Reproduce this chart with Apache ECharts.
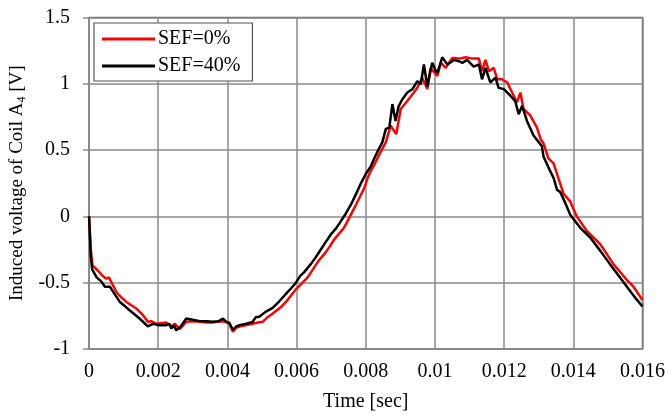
<!DOCTYPE html>
<html><head><meta charset="utf-8">
<script src="https://cdn.jsdelivr.net/npm/echarts@6/dist/echarts.min.js"></script>
<style>html,body{margin:0;padding:0;background:#fff}#c{width:670px;height:417px}</style>
</head><body><div id="c"></div>
<script>
const tBlack = [0,0.00005,0.00009,0.00022,0.00035,0.00046,0.0006,0.00075,0.00089,0.00105,0.00118,0.00132,0.00146,0.00158,0.0017,0.00185,0.002,0.00223,0.00232,0.00238,0.00245,0.00252,0.00265,0.00281,0.003,0.0032,0.0034,0.00358,0.00375,0.00387,0.00398,0.00405,0.00416,0.00425,0.00435,0.00455,0.00473,0.00482,0.00492,0.0051,0.00531,0.0055,0.00569,0.00585,0.00598,0.0061,0.00622,0.00641,0.00655,0.0067,0.00685,0.00699,0.00714,0.00728,0.00742,0.00757,0.00772,0.00786,0.008,0.00814,0.00825,0.00838,0.00848,0.00858,0.00868,0.00877,0.00886,0.00895,0.00905,0.0092,0.00935,0.00949,0.00959,0.00968,0.00978,0.00992,0.01002,0.01007,0.01021,0.01036,0.01055,0.0107,0.01079,0.01093,0.01112,0.01127,0.01136,0.01146,0.0116,0.01175,0.01184,0.01199,0.01218,0.01232,0.01242,0.01252,0.01266,0.01285,0.013,0.01309,0.01314,0.01328,0.01343,0.01353,0.01362,0.01377,0.01391,0.0142,0.01449,0.01478,0.01506,0.01535,0.01555,0.01569,0.01581,0.016];
const vBlack = [0,-0.30,-0.40,-0.46,-0.49,-0.53,-0.53,-0.59,-0.645,-0.68,-0.71,-0.74,-0.77,-0.80,-0.83,-0.81,-0.82,-0.82,-0.81,-0.845,-0.82,-0.86,-0.83,-0.77,-0.78,-0.79,-0.79,-0.795,-0.79,-0.77,-0.80,-0.80,-0.857,-0.83,-0.82,-0.81,-0.795,-0.76,-0.757,-0.72,-0.69,-0.64,-0.585,-0.54,-0.50,-0.45,-0.42,-0.36,-0.31,-0.25,-0.19,-0.136,-0.09,-0.036,0.02,0.088,0.17,0.25,0.32,0.375,0.44,0.51,0.56,0.66,0.67,0.847,0.72,0.83,0.88,0.934,0.96,1.02,0.996,1.146,0.98,1.158,1.10,1.083,1.2,1.146,1.18,1.17,1.158,1.18,1.13,1.146,1.034,1.12,1.01,1.046,0.97,0.96,0.91,0.87,0.77,0.834,0.72,0.61,0.56,0.53,0.45,0.37,0.29,0.20,0.185,0.10,0.013,-0.086,-0.16,-0.26,-0.36,-0.46,-0.53,-0.58,-0.62,-0.68];
const tRed = [0,0.00005,0.0001,0.00026,0.0004,0.0005,0.00058,0.00065,0.00079,0.00093,0.00108,0.00122,0.00137,0.00156,0.0017,0.0018,0.00195,0.00223,0.00238,0.00248,0.00262,0.00281,0.003,0.0032,0.0034,0.00358,0.00378,0.00396,0.00405,0.00416,0.00425,0.00435,0.00455,0.00473,0.00488,0.00502,0.00516,0.00531,0.00555,0.00569,0.00584,0.00598,0.00613,0.00632,0.00651,0.00665,0.0068,0.00695,0.00709,0.00723,0.00737,0.00757,0.00772,0.00786,0.00795,0.00805,0.00814,0.00824,0.00843,0.00858,0.00872,0.00888,0.00901,0.0092,0.00939,0.00949,0.00963,0.00978,0.00987,0.01007,0.01017,0.01031,0.0105,0.0107,0.01089,0.01108,0.01127,0.01136,0.01146,0.01156,0.0117,0.0118,0.01194,0.01209,0.01223,0.01237,0.01247,0.01256,0.01276,0.01295,0.01305,0.01314,0.01328,0.01343,0.01357,0.01372,0.01391,0.0141,0.01439,0.01478,0.01516,0.01555,0.01574,0.016];
const vRed = [0,-0.25,-0.37,-0.41,-0.45,-0.47,-0.46,-0.50,-0.57,-0.61,-0.645,-0.67,-0.695,-0.745,-0.795,-0.79,-0.81,-0.80,-0.83,-0.81,-0.85,-0.795,-0.79,-0.795,-0.80,-0.80,-0.79,-0.795,-0.81,-0.87,-0.84,-0.83,-0.82,-0.81,-0.80,-0.795,-0.76,-0.733,-0.683,-0.645,-0.596,-0.55,-0.51,-0.46,-0.384,-0.33,-0.285,-0.23,-0.173,-0.13,-0.086,0.013,0.09,0.163,0.21,0.287,0.34,0.387,0.487,0.56,0.685,0.62,0.81,0.87,0.934,0.97,1.046,0.96,1.12,1.06,1.16,1.12,1.195,1.19,1.2,1.19,1.19,1.095,1.18,1.095,1.12,1.034,1.034,1.01,0.934,0.86,0.934,0.81,0.76,0.67,0.586,0.55,0.437,0.40,0.287,0.17,0.113,0.0,-0.11,-0.21,-0.36,-0.48,-0.53,-0.63];
const seriesNames = ['SEF=0%','SEF=40%'];
const xTicks = [0,0.002,0.004,0.006,0.008,0.01,0.012,0.014,0.016];
const yTicks = [-1,-0.5,0,0.5,1,1.5];

const zip = (a,b)=>a.map((t,i)=>[t,b[i]]);
const font = 'Liberation Serif, Times New Roman, serif';
const chart = echarts.init(document.getElementById('c'));
chart.setOption({
  animation:false,
  textStyle:{fontFamily:font},
  grid:{left:87.5,right:27.5,top:17.5,bottom:65,show:true,borderColor:'#666',borderWidth:1.5},
  legend:{
    orient:'vertical',left:94,top:23,
    data:seriesNames.map(n=>({name:n,icon:'rect'})),
    itemWidth:53,itemHeight:3,itemGap:7,
    padding:[6,12,5,8],
    borderColor:'#555',borderWidth:1.2,backgroundColor:'#fff',
    textStyle:{fontFamily:font,fontSize:20,color:'#000',padding:[0,0,0,-2]}
  },
  xAxis:{
    type:'value',min:0,max:0.016,interval:0.002,
    name:'Time [sec]',nameLocation:'middle',nameGap:43,
    nameTextStyle:{fontFamily:font,fontSize:20,color:'#000'},
    axisLine:{show:false},axisTick:{show:false},
    axisLabel:{fontFamily:font,fontSize:20,color:'#000',margin:13,
      formatter:v=>{const r=xTicks.find(x=>Math.abs(x-v)<1e-9);return r===undefined?'':String(r);}},
    splitLine:{show:true,lineStyle:{color:'#8a8a8a',width:1.5}}
  },
  yAxis:{
    type:'value',min:-1,max:1.5,interval:0.5,
    name:'Induced voltage of Coil A{sub|4} [V]',nameLocation:'middle',nameGap:57,
    nameTextStyle:{fontFamily:font,fontSize:19,color:'#000',
      rich:{sub:{fontFamily:font,fontSize:12,verticalAlign:'bottom',padding:[8,0,0,0]}}},
    axisLine:{show:false},
    axisTick:{show:true,length:6,inside:false,lineStyle:{color:'#8a8a8a',width:1.5}},
    axisLabel:{fontFamily:font,fontSize:20,color:'#000',margin:19,
      formatter:v=>{const r=yTicks.find(x=>Math.abs(x-v)<1e-9);return r===undefined?'':String(r);}},
    splitLine:{show:true,lineStyle:{color:'#8a8a8a',width:1.5}}
  },
  series:[
    {name:seriesNames[0],type:'line',data:zip(tRed,vRed),showSymbol:false,
     lineStyle:{color:'#ff0000',width:2.5},itemStyle:{color:'#ff0000'},z:2},
    {name:seriesNames[1],type:'line',data:zip(tBlack,vBlack),showSymbol:false,
     lineStyle:{color:'#000000',width:2.5},itemStyle:{color:'#000000'},z:3}
  ]
});
</script></body></html>
